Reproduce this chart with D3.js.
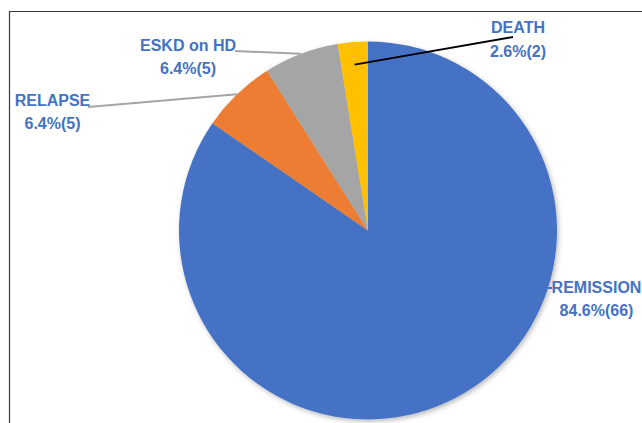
<!DOCTYPE html>
<html>
<head>
<meta charset="utf-8">
<script src="https://cdn.jsdelivr.net/npm/d3@7/dist/d3.min.js"></script>
<style>
  html, body { margin: 0; padding: 0; background: #fff; }
  svg { display: block; }
</style>
</head>
<body>
<svg id="chart" width="642" height="423"></svg>
<script>
// ---- data ----
const categories = ["REMISSION", "RELAPSE", "ESKD on HD", "DEATH"];
const counts = [66, 5, 5, 2];
const percentLabels = ["84.6%", "6.4%", "6.4%", "2.6%"];

// ---- styling / layout (not data) ----
const colors = ["#4472C4", "#ED7D31", "#A5A5A5", "#FFC000"];
const leaderColors = ["#4472C4", "#A5A5A5", "#A5A5A5", "#000000"];
const labelCenters = [[596.5, 293], [52.5, 106], [188, 50.5], [518, 33.3]];
const leaderStarts = [[552, 288], [88, 107], [235, 51], [513, 37]];
const leaderRadiusFrac = [1.0, 1.0, 1.0, 0.88];

const W = 642, H = 423;
const cx = 368, cy = 230.5, R = 189;
const lineGap = 23.4;

const svg = d3.select("#chart");

// frame
svg.append("path")
  .attr("d", `M9.5,${H} L9.5,11.5 L${W},11.5`)
  .attr("fill", "none")
  .attr("stroke", "#3a3a3a")
  .attr("stroke-width", 1.2);

const defs = svg.append("defs");
const f = defs.append("filter").attr("id", "shadow")
  .attr("x", "-10%").attr("y", "-10%").attr("width", "120%").attr("height", "120%");
f.append("feDropShadow")
  .attr("dx", 1.5).attr("dy", 2)
  .attr("stdDeviation", 2.5)
  .attr("flood-color", "#000")
  .attr("flood-opacity", 0.28);

const data = categories.map((c, i) => ({ name: c, count: counts[i], pct: percentLabels[i], i }));

const pie = d3.pie().value(d => d.count).sort(null);
const arcs = pie(data);
const arc = d3.arc().innerRadius(0).outerRadius(R);

const g = svg.append("g").attr("transform", `translate(${cx},${cy})`);

g.append("g").attr("filter", "url(#shadow)")
  .selectAll("path")
  .data(arcs)
  .join("path")
  .attr("d", arc)
  .attr("fill", d => colors[d.data.i]);

// leader lines
arcs.forEach(a => {
  const i = a.data.i;
  const mid = (a.startAngle + a.endAngle) / 2;
  const rr = R * leaderRadiusFrac[i];
  let ex = cx + rr * Math.sin(mid);
  let ey = cy - rr * Math.cos(mid);
  if (i === 0) {
    // remission: short horizontal tick to the pie edge
    const dy = leaderStarts[i][1] - cy;
    ex = cx + Math.sqrt(R * R - dy * dy);
    ey = leaderStarts[i][1];
  }
  svg.append("line")
    .attr("x1", leaderStarts[i][0]).attr("y1", leaderStarts[i][1])
    .attr("x2", ex).attr("y2", ey)
    .attr("stroke", leaderColors[i])
    .attr("stroke-width", i === 3 ? 1.8 : 2);
});

// labels
arcs.forEach(a => {
  const d = a.data;
  const [lx, ly] = labelCenters[d.i];
  const t = svg.append("text")
    .attr("x", lx).attr("y", ly)
    .attr("text-anchor", "middle")
    .attr("font-family", "'Liberation Sans', Arial, sans-serif")
    .attr("font-weight", "bold")
    .attr("font-size", 16)
    .attr("fill", "#4472C4");
  t.append("tspan").attr("x", lx).attr("y", ly).text(d.name);
  t.append("tspan").attr("x", lx).attr("y", ly + lineGap).text(`${d.pct}(${d.count})`);
});
</script>
</body>
</html>
